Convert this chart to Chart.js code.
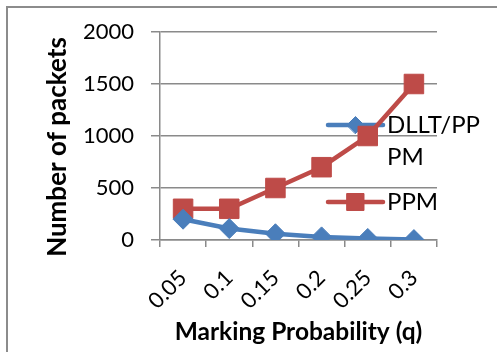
<!DOCTYPE html>
<html>
<head>
<meta charset="utf-8">
<script src="https://cdn.jsdelivr.net/npm/chart.js@4/dist/chart.umd.min.js"></script>
<style>
  html, body { margin: 0; padding: 0; background: #ffffff; }
  #wrap { position: relative; width: 497px; height: 352px; }
</style>
</head>
<body>
<div id="wrap"><canvas id="chart" width="497" height="352"></canvas></div>
<script>
// Marking probability categories and packet counts per scheme
const categories = ['0.05', '0.1', '0.15', '0.2', '0.25', '0.3'];
const dlltValues = [200, 110, 60, 30, 15, 4];
const ppmValues = [300, 300, 500, 700, 1000, 1500];
const seriesNames = ['DLLT/PPPM', 'PPM'];
const legendLines = [['DLLT/PP', 'PM'], ['PPM']];
const yTitle = 'Number of packets';
const xTitle = 'Marking Probability (q)';
const yMin = 0, yMax = 2000, yStep = 500;

const FONT = 'Lato, "Open Sans", sans-serif';
const GRID = '#8a8a8a';
const BLUE = '#4a7ebb';
const RED = '#be4b48';

// Outer frame (left and top edges)
const framePlugin = {
  id: 'frame',
  beforeDraw(chart) {
    const ctx = chart.ctx;
    ctx.save();
    ctx.fillStyle = '#ffffff';
    ctx.fillRect(0, 0, chart.width, chart.height);
    ctx.strokeStyle = '#8c8c8c';
    ctx.lineWidth = 2;
    ctx.beginPath();
    ctx.moveTo(7, chart.height);
    ctx.lineTo(7, 7);
    ctx.lineTo(chart.width, 7);
    ctx.stroke();
    ctx.restore();
  }
};

// Legend drawn at the right side, overlapping the plot
const sideLegend = {
  id: 'sideLegend',
  beforeDatasetsDraw(chart) {
    const ctx = chart.ctx;
    const rows = [{ y: 125, ds: 0, r: 8.5 }, { y: 202, ds: 1, r: 12 }];
    ctx.save();
    rows.forEach(r => {
      const ds = chart.data.datasets[r.ds];
      const x0 = 328, x1 = 383;
      ctx.strokeStyle = ds.borderColor;
      ctx.lineWidth = ds.borderWidth;
      ctx.lineCap = 'round';
      ctx.beginPath();
      ctx.moveTo(x0, r.y);
      ctx.lineTo(x1, r.y);
      ctx.stroke();
      ctx.fillStyle = ds.pointBackgroundColor;
      ctx.lineWidth = 1;
      Chart.helpers.drawPoint(ctx, {
        pointStyle: ds.pointStyle,
        radius: r.r,
        borderWidth: 1,
        rotation: 0
      }, (x0 + x1) / 2, r.y);
      ctx.fillStyle = '#000000';
      ctx.font = '24px ' + FONT;
      ctx.textAlign = 'left';
      ctx.textBaseline = 'middle';
      legendLines[r.ds].forEach((t, i) => ctx.fillText(t, 387, r.y + i * 32));
    });
    ctx.restore();
  }
};

// Axis titles
const axisTitles = {
  id: 'axisTitles',
  afterDraw(chart) {
    const ctx = chart.ctx;
    const xs = chart.scales.x;
    ctx.save();
    ctx.fillStyle = '#000000';
    ctx.textAlign = 'center';
    ctx.textBaseline = 'alphabetic';
    ctx.font = 'bold 24.5px ' + FONT;
    ctx.fillText(xTitle, (xs.left + xs.right) / 2, 340);
    ctx.font = 'bold 26px ' + FONT;
    ctx.translate(66, 147);
    ctx.rotate(-Math.PI / 2);
    ctx.fillText(yTitle, 0, 0);
    ctx.restore();
  }
};

new Chart(document.getElementById('chart'), {
  type: 'line',
  data: {
    labels: categories,
    datasets: [
      {
        label: seriesNames[0],
        data: dlltValues,
        borderColor: BLUE,
        backgroundColor: BLUE,
        pointBackgroundColor: BLUE,
        pointBorderColor: BLUE,
        borderWidth: 4.5,
        pointStyle: 'rectRot',
        pointRadius: 10,
        pointBorderWidth: 1,
        tension: 0
      },
      {
        label: seriesNames[1],
        data: ppmValues,
        borderColor: RED,
        backgroundColor: RED,
        pointBackgroundColor: RED,
        pointBorderColor: RED,
        borderWidth: 4.5,
        pointStyle: 'rect',
        pointRadius: 13.8,
        pointBorderWidth: 1,
        tension: 0
      }
    ]
  },
  options: {
    responsive: false,
    animation: false,
    devicePixelRatio: 1,
    layout: { padding: { left: 0, top: 32, right: 60, bottom: 0 } },
    plugins: {
      legend: { display: false },
      tooltip: { enabled: false }
    },
    scales: {
      x: {
        offset: true,
        grid: {
          offset: true,
          drawOnChartArea: false,
          drawTicks: true,
          tickLength: 7,
          color: GRID,
          lineWidth: 1.5
        },
        border: { display: true, color: GRID, width: 1.5 },
        ticks: {
          minRotation: 45,
          maxRotation: 45,
          color: '#000000',
          font: { family: FONT, size: 22 },
          padding: 18
        },
        afterFit(scale) { scale.height = 112; }
      },
      y: {
        min: yMin,
        max: yMax,
        grid: {
          color: GRID,
          lineWidth: 1.5,
          tickLength: 9
        },
        border: { display: true, color: GRID, width: 1.5 },
        ticks: {
          stepSize: yStep,
          color: '#000000',
          font: { family: FONT, size: 22 },
          padding: 17,
          callback: v => String(v)
        },
        afterFit(scale) { scale.width = 160; }
      }
    }
  },
  plugins: [framePlugin, sideLegend, axisTitles]
});
</script>
</body>
</html>
